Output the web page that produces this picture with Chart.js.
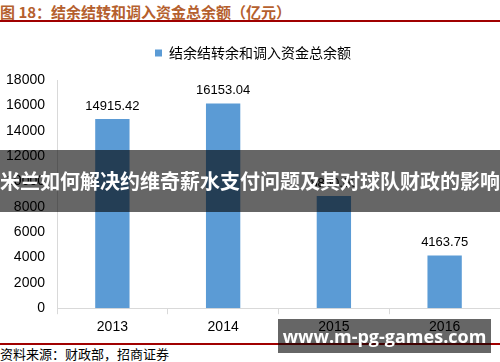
<!DOCTYPE html>
<html><head><meta charset="utf-8">
<script src="https://cdn.jsdelivr.net/npm/chart.js@4"></script>
<style>
html,body{margin:0;padding:0;background:#fff;width:500px;height:362px;overflow:hidden;position:relative;font-family:"Noto Sans CJK SC",sans-serif;}
#title{position:absolute;left:0;top:1px;font-size:15px;font-weight:bold;color:#b5602e;white-space:nowrap;}
#tline{position:absolute;left:0;top:20px;width:500px;height:2px;background:#a00000;}
#cv{position:absolute;left:0;top:30px;}
#bline{position:absolute;left:0;top:343px;width:500px;height:1.5px;background:#a00000;}
#src{position:absolute;left:0;top:344px;font-size:13px;color:#000;white-space:nowrap;}
#band{position:absolute;left:0;top:150px;width:500px;height:62px;background:rgba(0,0,0,0.6);color:#fff;font-weight:bold;font-size:20px;line-height:62px;text-align:center;white-space:nowrap;}
#wm{position:absolute;left:278px;top:319px;width:213px;height:34px;background:rgba(0,0,0,0.6);color:#fff;font-family:"Open Sans",sans-serif;font-weight:bold;font-size:18px;line-height:34px;text-align:center;white-space:nowrap;}
</style></head><body>
<div id="title">图 18：结余结转和调入资金总余额（亿元）</div>
<div id="tline"></div>
<canvas id="cv" width="500" height="311"></canvas>
<div id="bline"></div>
<div id="src">资料来源：财政部，招商证券</div>
<div id="band">米兰如何解决约维奇薪水支付问题及其对球队财政的影响</div>
<div id="wm">www.m-pg-games.com</div>
<script>
const categories = ["2013", "2014", "2015", "2016"];
const seriesName = "结余结转余和调入资金总余额";
const values = [14915.42, 16153.04, 8850, 4163.75];
const valueLabels = ["14915.42", "16153.04", "8850.00", "4163.75"];
const yTicks = [0, 2000, 4000, 6000, 8000, 10000, 12000, 14000, 16000, 18000];

const labelPlugin = {
  id: 'valLabels',
  afterDatasetsDraw(chart) {
    const ctx = chart.ctx;
    const meta = chart.getDatasetMeta(0);
    ctx.save();
    ctx.font = '13px "Liberation Sans", Arial, sans-serif';
    ctx.fillStyle = '#000';
    ctx.textAlign = 'center';
    ctx.textBaseline = 'middle';
    meta.data.forEach((bar, i) => {
      ctx.fillText(valueLabels[i], bar.x, bar.y - 13);
    });
    ctx.restore();
  }
};

const legendSpace = {
  id: 'legendSpace',
  beforeInit(chart) {
    const origFit = chart.legend.fit;
    chart.legend.fit = function () {
      origFit.call(this);
      this.height += 10;
    };
  }
};

new Chart(document.getElementById('cv'), {
  type: 'bar',
  data: {
    labels: categories,
    datasets: [{
      label: seriesName,
      data: values,
      backgroundColor: '#5b9bd5',
      borderWidth: 0,
      categoryPercentage: 1.0,
      barPercentage: 0.31
    }]
  },
  options: {
    responsive: false,
    animation: false,
    layout: { padding: { left: 6, right: 0, top: 2, bottom: 0 } },
    plugins: {
      legend: {
        display: true,
        position: 'top',
        labels: {
          boxWidth: 7, boxHeight: 7, padding: 14,
          color: '#000',
          font: { family: '"Noto Sans CJK SC", sans-serif', size: 14 }
        }
      },
      tooltip: { enabled: false }
    },
    scales: {
      x: {
        grid: { display: true, offset: true, drawOnChartArea: false, drawTicks: true, tickLength: 6, color: '#d9d9d9' },
        border: { display: true, color: '#d9d9d9', width: 1 },
        ticks: { color: '#000', font: { family: '"Liberation Sans", Arial, sans-serif', size: 14 }, padding: 5 }
      },
      y: {
        min: 0, max: 18000,
        afterBuildTicks(axis) { axis.ticks = yTicks.map(v => ({ value: v })); },
        afterFit(axis) { axis.width = 51; },
        grid: { display: false, drawTicks: false },
        border: { display: true, color: '#d9d9d9', width: 1 },
        ticks: { color: '#000', font: { family: '"Liberation Sans", Arial, sans-serif', size: 14 }, padding: 12,
          callback: (v) => String(v) }
      }
    }
  },
  plugins: [labelPlugin, legendSpace]
});
</script>
</body></html>
